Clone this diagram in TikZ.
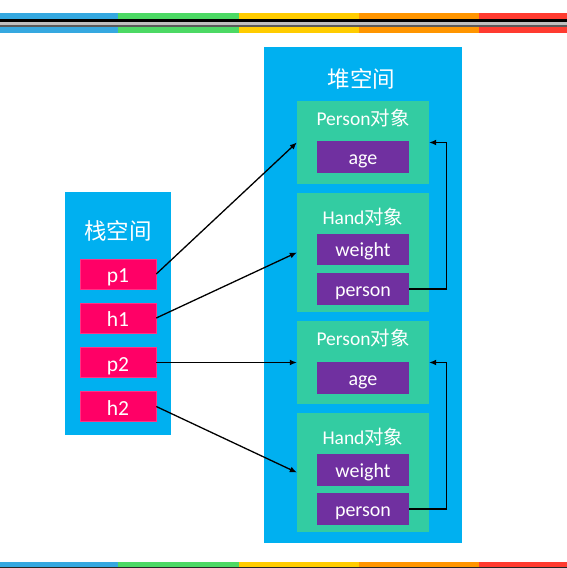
\documentclass[tikz,border=0pt]{standalone}
\usepackage{fontspec}
\setmainfont{Carlito}
\newfontfamily\cjk{Noto Sans CJK SC}
\usetikzlibrary{arrows.meta}
\definecolor{sblue}{HTML}{00B0F0}
\definecolor{sgreen}{HTML}{33CCA2}
\definecolor{spurple}{HTML}{7030A0}
\definecolor{spink}{HTML}{FF0066}
\definecolor{c1}{HTML}{35A8E0}
\definecolor{c2}{HTML}{4CD964}
\definecolor{c3}{HTML}{FFCC00}
\definecolor{c4}{HTML}{FF9500}
\definecolor{c5}{HTML}{FF3B30}
\tikzset{
  area/.style={fill=sblue, draw=none, inner sep=0pt},
  objbox/.style={fill=sgreen, draw=none, inner sep=0pt, minimum width=132pt},
  field/.style={fill=spurple, draw=none, inner sep=0pt, minimum width=92pt, text=white, text height=14pt, text depth=0pt, font=\fontsize{20}{22}\selectfont},
  var/.style={fill=spink, draw=spink!80!white, line width=0.5pt, inner sep=0pt, minimum width=76pt, minimum height=30pt, text=white, text height=17pt, text depth=0pt, font=\fontsize{21.5}{24}\selectfont},
  title/.style={text=white, inner sep=0pt, anchor=base, font=\fontsize{19.5}{22}\selectfont},
  bigtitle/.style={text=white, inner sep=0pt, font=\cjk\fontsize{22.5}{26}\selectfont},
  arr/.style={draw=black, line width=1.3pt, -{Latex[length=7pt,width=6pt]}},
}
\begin{document}
\begin{tikzpicture}[x=1pt,y=-1pt]
\useasboundingbox (0,0) rectangle (567,568);
% stripes
\foreach \a/\b/\c in {0/118/c1,118/239/c2,239/359/c3,359/479/c4,479/567/c5}{
  \fill[\c] (\a,13) rectangle (\b,32.5);
  \fill[\c] (\a,561.5) rectangle (\b,566.5);
}
\fill[black] (0,18.5) rectangle (567,21.7);
\fill[black!25] (0,21.7) rectangle (567,25.3);
\fill[black!65] (0,25.3) rectangle (567,27);
\fill[black!85] (0,566.5) rectangle (567,568);
% areas
\node[area, minimum width=198pt, minimum height=496pt] (heap) at (363,295) {};
\node[area, minimum width=106pt, minimum height=243pt] (stack) at (118,313.5) {};
\node[bigtitle] (heapt) at (361.5,78.5) {堆空间};
\node[bigtitle] (stackt) at (118,231) {栈空间};
% stack vars
\node[var] (p1) at (118,274) {p1};
\node[var] (h1) at (118,318) {h1};
\node[var] (p2) at (118,362.5) {p2};
\node[var] (h2) at (118,406.5) {h2};
% heap objects
\node[objbox, minimum height=83pt] (P1) at (363,142.5) {};
\node[objbox, minimum height=119pt] (H1) at (363,252.5) {};
\node[objbox, minimum height=83pt] (P2) at (363,362.5) {};
\node[objbox, minimum height=119pt] (H2) at (363,472.5) {};
\node[title] (P1t) at (363,125) {Person\cjk 对象};
\node[title] (H1t) at (363,224) {Hand\cjk 对象};
\node[title] (P2t) at (363,345) {Person\cjk 对象};
\node[title] (H2t) at (363,444) {Hand\cjk 对象};
\node[field, minimum height=32pt] (age1) at (363,157) {age};
\node[field, minimum height=31pt] (w1) at (363,249.5) {weight};
\node[field, minimum height=32pt] (pr1) at (363,289) {person};
\node[field, minimum height=32pt] (age2) at (363,378) {age};
\node[field, minimum height=32pt] (w2) at (363,470) {weight};
\node[field, minimum height=32pt] (pr2) at (363,509) {person};
% arrows
\draw[arr] (p1.east) -- (P1.west);
\draw[arr] (h1.east) -- (H1.west);
\draw[arr] (p2.east) -- (P2.west);
\draw[arr] (h2.east) -- (H2.west);
\draw[arr] (pr1.east) -- ++(37,0) |- (P1.east);
\draw[arr] (pr2.east) -- ++(37,0) |- (P2.east);
\end{tikzpicture}
\end{document}
